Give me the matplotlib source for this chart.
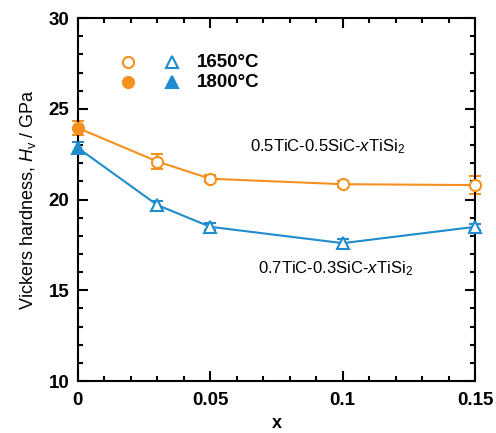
import matplotlib
matplotlib.use("Agg")
import matplotlib.pyplot as plt
from matplotlib.ticker import MultipleLocator

plt.rcParams['font.family'] = ['Liberation Sans', 'DejaVu Sans']
plt.rcParams['mathtext.fontset'] = 'custom'
plt.rcParams['mathtext.rm'] = 'Liberation Sans'
plt.rcParams['mathtext.it'] = 'Liberation Sans:italic'
plt.rcParams['mathtext.bf'] = 'Liberation Sans:bold'

x = [0, 0.03, 0.05, 0.1, 0.15]
hv_05 = [23.95, 22.1, 21.15, 20.85, 20.8]
err_05 = [0.4, 0.4, 0.2, 0.15, 0.5]
hv_07 = [22.85, 19.7, 18.5, 17.6, 18.5]
err_07 = [0.3, 0.25, 0.2, 0.25, 0.15]

orange = '#F7901E'
blue = '#1F8DCD'

fig = plt.figure(figsize=(4.96, 4.33), dpi=100)
ax = fig.add_axes([0.157, 0.12, 0.801, 0.838])

for y, e, c, m in [(hv_05, err_05, orange, 'o'), (hv_07, err_07, blue, '^')]:
    eb = ax.errorbar(x, y, yerr=e, color=c, lw=1.5, capsize=4.5, capthick=1.5, elinewidth=1.5, zorder=2)
    for art in eb.lines[1] + eb.lines[2]:
        art.set_clip_on(False)
    eb.lines[0].set_clip_on(False)
    ax.plot(x[1:], y[1:], ls='none', marker=m, ms=8, mfc='white', mec=c, mew=1.5, zorder=3, clip_on=False)
    ax.plot(x[:1], y[:1], ls='none', marker=m, ms=8, mfc=c, mec=c, mew=1.5, zorder=3, clip_on=False)

ax.set_xlim(0, 0.15)
ax.set_ylim(10, 30)
ax.xaxis.set_major_locator(MultipleLocator(0.05))
ax.xaxis.set_minor_locator(MultipleLocator(0.01))
ax.yaxis.set_major_locator(MultipleLocator(5))
ax.yaxis.set_minor_locator(MultipleLocator(1))
ax.set_xticks([0, 0.05, 0.1, 0.15])
ax.set_xticklabels(['0', '0.05', '0.1', '0.15'])
ax.tick_params(which='both', direction='in', top=True, right=True, width=1.5)
ax.tick_params(which='major', length=7, labelsize=13.5, pad=6)
ax.tick_params(axis='x', which='major', pad=8)
ax.tick_params(which='minor', length=3.5)
for lab in ax.get_xticklabels() + ax.get_yticklabels():
    lab.set_fontweight('bold')
for s in ax.spines.values():
    s.set_linewidth(1.5)

ax.set_xlabel('x', fontsize=13, fontweight='bold', labelpad=4)
ax.set_ylabel(r'Vickers hardness, $H_\mathrm{v}$ / GPa', fontsize=13, labelpad=8)

# legend
ax.plot([0.126], [0.879], transform=ax.transAxes, marker='o', ms=8, mfc='white', mec=orange, mew=1.5, ls='none', clip_on=False)
ax.plot([0.126], [0.824], transform=ax.transAxes, marker='o', ms=8, mfc=orange, mec=orange, mew=1.5, ls='none', clip_on=False)
ax.plot([0.237], [0.879], transform=ax.transAxes, marker='^', ms=8, mfc='white', mec=blue, mew=1.5, ls='none', clip_on=False)
ax.plot([0.237], [0.824], transform=ax.transAxes, marker='^', ms=8, mfc=blue, mec=blue, mew=1.5, ls='none', clip_on=False)
ax.text(0.30, 0.879, '1650°C', transform=ax.transAxes, fontsize=13.5, fontweight='bold', va='center')
ax.text(0.30, 0.824, '1800°C', transform=ax.transAxes, fontsize=13.5, fontweight='bold', va='center')

ax.text(0.065, 22.9, r'0.5TiC-0.5SiC-$x$TiSi$_2$', fontsize=12, va='center')
ax.text(0.068, 16.2, r'0.7TiC-0.3SiC-$x$TiSi$_2$', fontsize=12, va='center')

fig.savefig('out.png', dpi=100)
